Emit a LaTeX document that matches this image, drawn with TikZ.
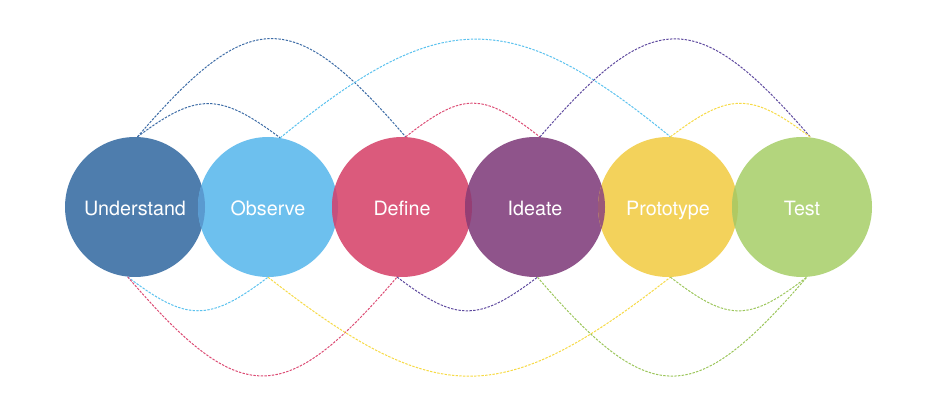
\documentclass[tikz,border=0pt]{standalone}
\usepackage{fontspec}
\setmainfont{TeX Gyre Heros}
\usetikzlibrary{arrows.meta}

\definecolor{understandcol}{HTML}{4E7DAD}
\definecolor{observecol}{HTML}{6DC0EE}
\definecolor{definecol}{HTML}{DB5A7C}
\definecolor{ideatecol}{HTML}{8F548B}
\definecolor{prototypecol}{HTML}{F3D25B}
\definecolor{testcol}{HTML}{B3D57D}
\definecolor{lensuo}{HTML}{5A9AD0}
\definecolor{lensod}{HTML}{C5507E}
\definecolor{lensdi}{HTML}{953E74}
\definecolor{lensip}{HTML}{9A5878}
\definecolor{lenspt}{HTML}{B0C962}
\definecolor{linkdarkblue}{HTML}{3D6CA6}
\definecolor{linklightblue}{HTML}{5CC2EE}
\definecolor{linkpink}{HTML}{DC4C74}
\definecolor{linkpurple}{HTML}{5F4B9F}
\definecolor{linkyellow}{HTML}{F6DA45}
\definecolor{linkgreen}{HTML}{9CC65C}

\tikzset{
  stage/.style={circle,draw=none,minimum size=140bp,inner sep=0pt,
    text height=17bp,text depth=0pt,
    text=white,font=\fontsize{19.8}{21}\selectfont},
  link/.style={dash pattern=on 2.4bp off 1.3bp,line width=1bp},
}

\begin{document}
\begin{tikzpicture}[>=latex,line join=bevel,]
\useasboundingbox (0bp,0bp) rectangle (937bp,410bp);
%%
\node (node_understand) at (135bp,203bp) [stage,fill=understandcol] {Understand};
  \node (node_observe) at (268bp,203bp) [stage,fill=observecol] {Observe};
  \node (node_define) at (402bp,203bp) [stage,fill=definecol] {Define};
  \node (node_ideate) at (535bp,203bp) [stage,fill=ideatecol] {Ideate};
  \node (node_prototype) at (668bp,203bp) [stage,fill=prototypecol] {Prototype};
  \node (node_test) at (802bp,203bp) [stage,fill=testcol] {Test};
%% overlaps
\begin{scope}
  \clip (node_understand.center) circle (70bp);
  \fill [lensuo] (node_observe.center) circle (70bp);
\end{scope}
\begin{scope}
  \clip (node_observe.center) circle (70bp);
  \fill [lensod] (node_define.center) circle (70bp);
\end{scope}
\begin{scope}
  \clip (node_define.center) circle (70bp);
  \fill [lensdi] (node_ideate.center) circle (70bp);
\end{scope}
\begin{scope}
  \clip (node_ideate.center) circle (70bp);
  \fill [lensip] (node_prototype.center) circle (70bp);
\end{scope}
\begin{scope}
  \clip (node_prototype.center) circle (70bp);
  \fill [lenspt] (node_test.center) circle (70bp);
\end{scope}
%% links above
  \draw [link,linkdarkblue] (node_understand.88) ..controls +(113bp,131bp) and +(-113bp,131bp)  .. (node_define.87);
  \draw [link,linkdarkblue] (node_understand.88) ..controls +(60bp,45bp) and +(-60bp,45bp)  .. (node_observe.80);
  \draw [link,linklightblue] (node_observe.80) ..controls +(160bp,131bp) and +(-160bp,131bp)  .. (node_prototype.88);
  \draw [link,linkpink] (node_define.87) ..controls +(57bp,45bp) and +(-57bp,45bp)  .. (node_ideate.86);
  \draw [link,linkpurple] (node_ideate.86) ..controls +(113bp,131bp) and +(-113bp,131bp)  .. (node_test.83);
  \draw [link,linkyellow] (node_prototype.88) ..controls +(59bp,45bp) and +(-59bp,45bp)  .. (node_test.83);
%% links below
  \draw [link,linklightblue] (node_understand.-96) ..controls +(59bp,-45bp) and +(-59bp,-45bp)  .. (node_observe.-90);
  \draw [link,linkpink] (node_understand.-96) ..controls +(113bp,-132bp) and +(-113bp,-132bp)  .. (node_define.-94);
  \draw [link,linkyellow] (node_observe.-90) ..controls +(169bp,-132bp) and +(-169bp,-132bp)  .. (node_prototype.-88);
  \draw [link,linkpurple] (node_define.-94) ..controls +(59bp,-45bp) and +(-59bp,-45bp)  .. (node_ideate.-88);
  \draw [link,linkgreen] (node_ideate.-88) ..controls +(113bp,-132bp) and +(-113bp,-132bp)  .. (node_test.-86);
  \draw [link,linkgreen] (node_prototype.-88) ..controls +(58bp,-45bp) and +(-58bp,-45bp)  .. (node_test.-86);
%
\end{tikzpicture}
\end{document}
